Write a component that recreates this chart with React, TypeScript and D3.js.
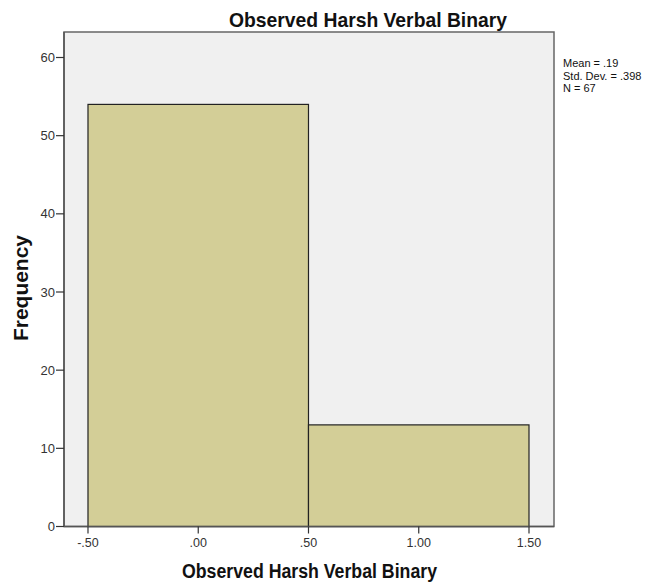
import React from "react";
import * as d3 from "d3";

const binStarts = [-0.5, 0.5];
const binEnds = [0.5, 1.5];
const counts = [54, 13];
const xTicks = [-0.5, 0, 0.5, 1.0, 1.5];
const xTickLabels = ["-.50", ".00", ".50", "1.00", "1.50"];
const yTicks = [0, 10, 20, 30, 40, 50, 60];
const statsLines = ["Mean = .19", "Std. Dev. = .398", "N = 67"];
const titleText = "Observed Harsh Verbal Binary";
const xLabelText = "Observed Harsh Verbal Binary";
const yLabelText = "Frequency";

const W = 665;
const H = 585;
const m = { left: 64, right: 554, top: 32, bottom: 526.5 };
const FONT = "'Liberation Sans', Arial, sans-serif";

export default function App() {
  const x = d3.scaleLinear().domain([-0.6088, 1.6134]).range([m.left, m.right]);
  const y = d3.scaleLinear().domain([0, 60]).range([m.bottom, 57.5]);

  return (
    <svg width={W} height={H} style={{ position: "absolute", left: 0, top: 0 }} fontFamily={FONT}>
      <rect x={0} y={0} width={W} height={H} fill="#ffffff" />
      <text x={229} y={27} fontSize={21} fontWeight="bold" fill="#111" textLength={278} lengthAdjust="spacingAndGlyphs">
        {titleText}
      </text>
      <rect x={m.left} y={m.top} width={m.right - m.left} height={m.bottom - m.top} fill="#f0f0f0" stroke="#666" strokeWidth={1.5} />
      {counts.map((c, i) => (
        <rect
          key={i}
          x={x(binStarts[i])}
          y={y(c)}
          width={x(binEnds[i]) - x(binStarts[i])}
          height={y(0) - y(c)}
          fill="#d3ce97"
          stroke="#222"
          strokeWidth={1.2}
        />
      ))}
      {/* y axis */}
      <line x1={m.left} x2={m.left} y1={m.top} y2={m.bottom} stroke="#555" strokeWidth={1.5} />
      {yTicks.map((t) => (
        <g key={t}>
          <line x1={m.left - 8} x2={m.left} y1={y(t)} y2={y(t)} stroke="#333" strokeWidth={1.2} />
          <text x={m.left - 9} y={y(t) + 4.5} textAnchor="end" fontSize={13} fill="#333">
            {t}
          </text>
        </g>
      ))}
      {/* x axis */}
      <line x1={m.left} x2={m.right} y1={m.bottom} y2={m.bottom} stroke="#555" strokeWidth={1.5} />
      {xTicks.map((t, i) => (
        <g key={t}>
          <line x1={x(t)} x2={x(t)} y1={m.bottom} y2={m.bottom + 7} stroke="#333" strokeWidth={1.2} />
          <text x={x(t)} y={547} textAnchor="middle" fontSize={12.5} fill="#333">
            {xTickLabels[i]}
          </text>
        </g>
      ))}
      <text x={182} y={578} fontSize={20} fontWeight="bold" fill="#111" textLength={255} lengthAdjust="spacingAndGlyphs">
        {xLabelText}
      </text>
      <text transform={`translate(28, 341) rotate(-90)`} fontSize={20} fontWeight="bold" fill="#111" textLength={106} lengthAdjust="spacingAndGlyphs">
        {yLabelText}
      </text>
      {statsLines.map((s, i) => (
        <text key={i} x={563} y={67 + i * 12.7} fontSize={11} fill="#111">
          {s}
        </text>
      ))}
    </svg>
  );
}
